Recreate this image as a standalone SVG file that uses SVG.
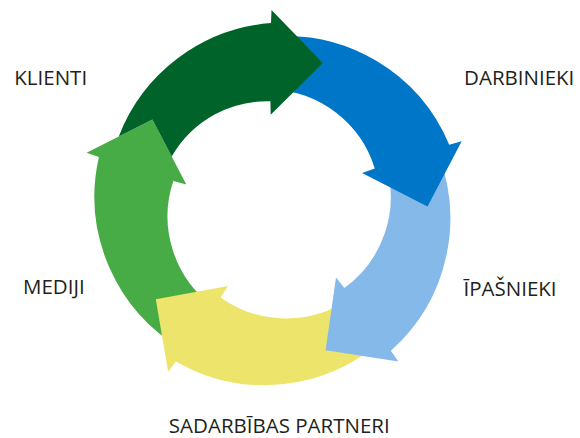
<svg xmlns="http://www.w3.org/2000/svg" width="580" height="438" viewBox="0 0 580 438">
<style>
.lbl{font-family:"Open Sans","Noto Sans","Liberation Sans",sans-serif;font-size:20.5px;fill:#231f20;text-anchor:middle}
</style>
<rect width="580" height="438" fill="#ffffff"/>
<g id="connectors">
<path id="arrow-mediji" fill="#47ac45" d="M186.3,184.6 L152.4,119.5 L86.6,152.7 L98.9,157.1 A177,177 0 0 0 109.9,268.8 A177,177 0 0 0 181.4,348.9 L212.5,306.0 A112,112 0 0 1 172.6,249.6 A112,112 0 0 1 173.3,180.9 Z"/>
<path id="arrow-partneri" fill="#ede56b" d="M228.1,286.1 L155.8,299.2 L168.1,371.8 L175.9,361.4 A177,177 0 0 0 284.0,384.1 A177,177 0 0 0 380.7,341.5 L349.9,298.5 A112,112 0 0 1 285.0,318.4 A112,112 0 0 1 220.7,297.4 Z"/>
<path id="arrow-ipasnieki" fill="#85b9ea" d="M336.0,277.4 L325.6,350.2 L398.4,361.4 L390.9,350.7 A177,177 0 0 0 446.3,256.0 A177,177 0 0 0 437.2,151.5 L386.5,166.8 A112,112 0 0 1 384.5,234.1 A112,112 0 0 1 344.4,288.0 Z"/>
<path id="arrow-darbinieki" fill="#0076c8" d="M362.1,173.1 L427.5,206.5 L461.7,141.2 L449.2,144.8 A177,177 0 0 0 376.7,61.1 A177,177 0 0 0 273.6,36.5 L272.3,89.5 A112,112 0 0 1 336.2,112.8 A112,112 0 0 1 374.8,168.6 Z"/>
<path id="arrow-klienti" fill="#006329" d="M270.7,114.7 L322.8,62.9 L271.5,10.1 L271.0,23.1 A178,178 0 0 0 177.4,58.6 A178,178 0 0 0 118.8,136.4 L152.4,119.5 L171.7,156.6 A111,111 0 0 1 214.6,114.6 A111,111 0 0 1 270.4,101.2 Z"/>
</g>
<g id="node-klienti"><text class="lbl" x="50.7" y="85">KLIENTI</text></g>
<g id="node-darbinieki"><text class="lbl" x="519.2" y="84.5">DARBINIEKI</text></g>
<g id="node-ipasnieki"><text class="lbl" x="510" y="295.5">ĪPAŠNIEKI</text></g>
<g id="node-partneri"><text class="lbl" x="279.3" y="433">SADARBĪBAS PARTNERI</text></g>
<g id="node-mediji"><text class="lbl" x="53.8" y="294.3">MEDIJI</text></g>
</svg>
